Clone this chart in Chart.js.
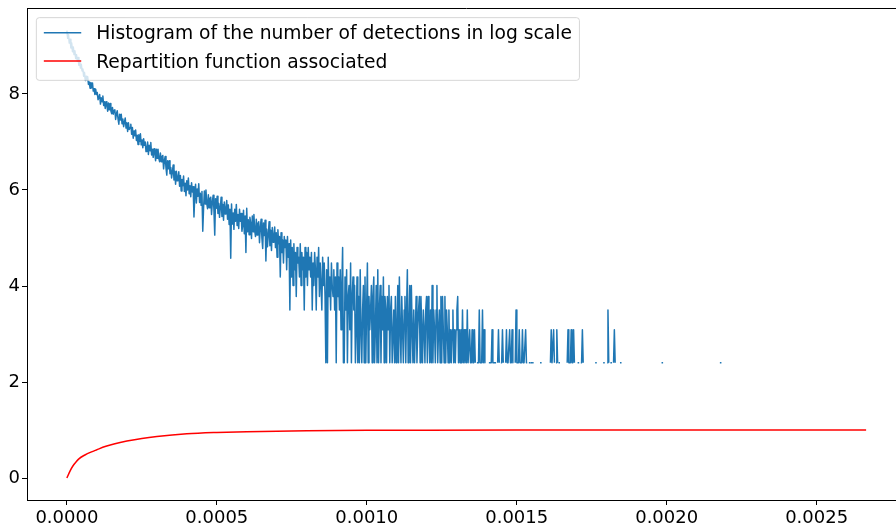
<!DOCTYPE html>
<html>
<head>
<meta charset="utf-8">
<title>Detections histogram</title>
<script src="https://cdn.jsdelivr.net/npm/chart.js@4.4.1/dist/chart.umd.min.js"></script>
<style>
  html, body { margin: 0; padding: 0; background: #fff; overflow: hidden; }
  #wrap { width: 896px; height: 526px; overflow: hidden; }
</style>
</head>
<body>
<div id="wrap"><canvas id="histChart" width="910" height="526"></canvas></div>
<script>
// --- 1. DATA ---

const seriesLabels = [
    'Histogram of the number of detections in log scale',
    'Repartition function associated'
];

// 1000 bins between 0 and the largest value
const binWidth = 0.000002665;

// log of the counts, bins 0..500 (dense part)
const histDense = [
    // 0-19
    9.32, 9.16, 9.24, 9.06, 9.14, 8.96, 9.06, 8.88, 8.98, 8.82, 8.90, 8.74, 8.82, 8.68, 8.76, 8.60, 8.70, 8.54, 8.62, 8.48,
    // 20-39
    8.52, 8.37, 8.45, 8.28, 8.37, 8.29, 8.36, 8.20, 8.25, 8.12, 8.24, 8.13, 8.23, 8.06, 8.11, 7.99, 8.10, 7.99, 8.03, 7.88,
    // 40-59
    7.88, 7.99, 7.79, 7.92, 7.84, 7.96, 7.76, 7.84, 7.70, 7.84, 7.77, 7.64, 7.81, 7.67, 7.80, 7.65, 7.59, 7.72, 7.58, 7.66,
    // 60-79
    7.67, 7.47, 7.59, 7.65, 7.48, 7.37, 7.58, 7.46, 7.58, 7.38, 7.48, 7.32, 7.41, 7.50, 7.29, 7.40, 7.22, 7.40, 7.26, 7.30,
    // 80-99
    7.37, 7.16, 7.30, 7.08, 7.23, 7.13, 7.25, 7.03, 7.14, 6.95, 7.15, 7.01, 7.17, 6.94, 7.04, 6.88, 7.07, 6.93, 7.00, 6.80,
    // 100-119
    6.85, 7.00, 6.74, 6.93, 6.82, 6.99, 6.73, 6.85, 6.68, 6.86, 6.78, 6.61, 6.85, 6.66, 6.85, 6.66, 6.59, 6.77, 6.59, 6.70,
    // 120-139
    6.72, 6.44, 6.61, 6.70, 6.46, 6.31, 6.61, 6.44, 6.61, 6.34, 6.47, 6.25, 6.38, 6.52, 6.21, 6.39, 6.12, 6.39, 6.19, 6.25,
    // 140-159
    6.38, 6.08, 6.30, 5.98, 6.22, 6.09, 6.29, 5.97, 6.14, 5.88, 6.19, 6.00, 6.25, 5.92, 6.09, 5.86, 6.15, 5.96, 6.07, 5.44,
    // 160-179
    5.87, 6.12, 5.73, 6.02, 5.87, 6.13, 5.74, 5.93, 5.68, 5.97, 5.14, 5.61, 5.98, 5.71, 6.00, 5.72, 5.61, 5.90, 5.63, 5.82,
    // 180-199
    5.85, 5.49, 5.75, 5.89, 5.58, 5.06, 5.82, 5.62, 5.87, 5.51, 5.72, 5.43, 5.64, 5.85, 5.45, 5.70, 5.37, 5.75, 5.50, 5.60,
    // 200-219
    5.78, 5.39, 5.69, 5.28, 5.60, 4.58, 5.71, 5.29, 5.52, 5.18, 5.60, 5.35, 5.70, 5.26, 5.49, 5.20, 5.60, 5.35, 5.51, 5.14,
    // 220-239
    5.26, 5.58, 5.09, 5.46, 4.70, 5.62, 5.13, 5.38, 5.07, 5.43, 5.30, 4.99, 5.46, 5.13, 5.49, 5.16, 5.03, 5.39, 5.06, 5.30,
    // 240-259
    5.34, 4.90, 5.21, 5.39, 5.00, 4.78, 5.31, 5.05, 5.37, 4.52, 5.18, 4.82, 5.08, 5.34, 4.84, 5.16, 4.74, 5.22, 4.91, 5.03,
    // 260-279
    5.23, 4.80, 5.11, 4.60, 5.17, 4.88, 5.03, 4.19, 5.11, 4.70, 4.96, 4.48, 5.03, 4.80, 4.96, 4.34, 5.03, 4.60, 4.88, 3.50,
    // 280-299
    4.96, 4.19, 4.80, 4.01, 4.88, 4.34, 4.70, 3.78, 4.80, 4.48, 4.60, 4.19, 4.88, 4.01, 4.70, 4.34, 4.60, 3.50, 4.80, 4.19,
    // 300-319
    4.70, 4.01, 4.80, 4.34, 4.60, 4.19, 4.70, 3.50, 4.48, 4.01, 4.70, 4.34, 3.50, 4.60, 4.19, 4.80, 3.78, 4.48, 4.01, 3.50,
    // 320-339
    4.60, 4.01, 4.48, 3.78, 2.40, 4.34, 2.40, 4.60, 3.78, 4.19, 3.50, 4.48, 4.01, 3.78, 4.34, 3.50, 4.19, 2.40, 4.48, 3.78,
    // 340-359
    4.19, 3.50, 4.34, 3.09, 4.01, 4.80, 2.40, 2.40, 4.19, 3.50, 4.34, 2.40, 3.78, 4.01, 3.09, 4.48, 2.40, 3.78, 4.19, 3.50,
    // 360-379
    4.01, 2.40, 3.09, 4.19, 2.40, 3.78, 2.40, 4.34, 3.09, 2.40, 3.50, 4.01, 2.40, 4.19, 2.40, 3.50, 4.48, 2.40, 3.78, 3.09,
    // 380-399
    3.50, 4.01, 2.40, 3.78, 4.19, 2.40, 3.09, 4.01, 2.40, 4.34, 2.40, 3.50, 4.01, 2.40, 3.78, 3.09, 4.19, 2.40, 3.78, 3.50,
    // 400-419
    2.40, 3.78, 3.09, 4.01, 2.40, 3.50, 3.78, 2.40, 2.40, 3.50, 2.40, 3.78, 2.40, 3.09, 4.01, 2.40, 4.19, 3.09, 2.40, 3.78,
    // 420-439
    3.09, 2.40, 3.50, 3.78, 2.40, 3.50, 4.34, 2.40, 3.09, 4.01, 2.40, 4.01, 3.09, 2.40, 3.50, 2.40, 3.09, 3.78, 2.40, 3.09,
    // 440-459
    3.50, 3.78, 2.40, 3.78, 3.09, 2.40, 3.50, 3.09, 2.40, 3.50, 3.78, 2.40, 3.78, 3.09, 2.40, 3.50, 2.40, 4.01, 2.40, 3.50,
    // 460-479
    3.09, 2.40, 3.50, 4.01, 2.40, 3.09, 3.50, 2.40, 3.78, 2.40, 3.78, 3.09, 2.40, 3.78, 2.40, 3.50, 3.09, 2.40, 3.50, 2.40,
    // 480-499
    3.09, 2.40, 3.09, 3.50, 2.40, 3.09, 2.40, 3.09, 3.50, 3.78, 2.40, 3.09, 2.40, 3.09, 2.40, 3.50, 2.40, 3.09, 2.40, 3.09,
    // 500
    2.40
];

// sparse tail: [bin, log count], bins not listed are empty
const histTail = [
    [501, 3.50], [502, 2.40], [503, 2.40], [504, 3.09], [505, 2.40], [506, 2.40], [507, 3.09], [508, 2.40],
    [509, 2.40], [510, 3.09], [511, 2.40], [513, 2.40], [514, 2.40], [515, 2.40], [516, 3.50], [517, 2.40],
    [518, 2.40], [519, 2.40], [520, 3.50], [521, 2.40], [522, 3.09], [523, 2.40],
    [528, 2.40], [529, 2.40], [530, 2.40], [531, 2.40], [532, 3.09], [533, 2.40], [534, 2.40], [535, 2.40],
    [536, 2.40], [537, 2.40], [539, 2.40], [540, 3.09], [541, 2.40], [543, 2.40], [544, 2.40], [545, 3.09],
    [546, 2.40], [549, 2.40], [550, 3.09], [551, 2.40], [552, 2.40], [553, 2.40], [554, 3.09], [555, 2.40],
    [556, 2.40], [557, 3.09], [558, 2.40], [561, 2.40], [562, 3.50], [563, 2.40], [564, 2.40], [565, 2.40],
    [566, 3.09], [567, 2.40], [568, 2.40], [569, 2.40], [570, 3.09], [571, 2.40], [572, 2.40], [573, 2.40],
    [574, 3.09], [575, 2.40], [576, 2.40], [579, 2.40], [581, 2.40], [583, 2.40],
    [593, 2.40],
    [605, 2.40], [606, 3.09], [607, 2.40], [608, 2.40], [609, 3.09], [610, 2.40], [612, 2.40], [613, 3.09],
    [614, 2.40], [616, 2.40],
    [626, 2.40], [627, 3.09], [628, 2.40], [629, 2.40], [630, 2.40], [631, 3.09], [632, 2.40], [633, 2.40],
    [634, 3.09], [635, 2.40], [639, 2.40], [640, 2.40], [641, 2.40], [643, 2.40], [644, 2.40], [645, 3.09],
    [646, 2.40], [647, 2.40],
    [662, 2.40], [672, 2.40], [676, 2.40], [677, 3.50], [678, 2.40], [681, 2.40], [684, 2.40], [685, 3.09],
    [686, 2.40], [693, 2.40],
    [745, 2.40],
    [818, 2.40]
];
const lastBin = 818;

// repartition function (cumulative)
const cdfX = [0, 0.00001, 0.00002, 0.00003, 0.00004, 0.00006, 0.00008, 0.0001, 0.00013, 0.00016, 0.0002,
              0.00025, 0.0003, 0.0004, 0.0005, 0.0006, 0.0007, 0.0008, 0.001, 0.0012, 0.0015, 0.002, 0.002665];
const cdfY = [0, 0.14, 0.25, 0.33, 0.40, 0.48, 0.54, 0.59, 0.66, 0.715, 0.77,
              0.825, 0.865, 0.92, 0.948, 0.965, 0.976, 0.984, 0.993, 0.997, 0.999, 1.0, 1.0];

const xTicks = [0, 0.0005, 0.001, 0.0015, 0.002, 0.0025];
const yTicks = [0, 2, 4, 6, 8];
const xRange = [-0.000133, 0.002798];
const yRange = [-0.458, 9.785];

// --- 2. BUILD POINTS ---

const tailMap = new Map(histTail);
const histPoints = [];
for (let i = 0; i <= lastBin; i++) {
    const y = i < histDense.length ? histDense[i] : (tailMap.has(i) ? tailMap.get(i) : null);
    histPoints.push({ x: i * binWidth, y: y });
}
const cdfPoints = cdfX.map((x, i) => ({ x: x, y: cdfY[i] }));

// single bins with empty neighbours get a small square, like matplotlib's projecting caps
function isIsolated(i) {
    const p = histPoints[i];
    if (!p || p.y === null) return false;
    const prev = histPoints[i - 1];
    const next = histPoints[i + 1];
    return (!prev || prev.y === null) && (!next || next.y === null);
}

// --- 3. PLUGINS (legend box + top spine) ---

const FONT = '"DejaVu Sans", sans-serif';
const FS = 18.7;

const boxLegend = {
    id: 'boxLegend',
    afterDatasetsDraw(chart) {
        const ctx = chart.ctx;
        const area = chart.chartArea;
        ctx.save();
        ctx.font = FS + 'px ' + FONT;
        const widths = chart.data.datasets.map(ds => ctx.measureText(ds.label).width);
        const left = area.left + 0.5 * FS;
        const top = area.top + 0.5 * FS;
        const pad = 0.4 * FS;
        const handle = 2 * FS;
        const gap = 0.8 * FS;
        const w = pad + handle + gap + Math.max(...widths) + pad;
        const h = 62.7;
        const r = 3;

        ctx.beginPath();
        ctx.moveTo(left + r, top);
        ctx.lineTo(left + w - r, top);
        ctx.arcTo(left + w, top, left + w, top + r, r);
        ctx.lineTo(left + w, top + h - r);
        ctx.arcTo(left + w, top + h, left + w - r, top + h, r);
        ctx.lineTo(left + r, top + h);
        ctx.arcTo(left, top + h, left, top + h - r, r);
        ctx.lineTo(left, top + r);
        ctx.arcTo(left, top, left + r, top, r);
        ctx.closePath();
        ctx.fillStyle = 'rgba(255,255,255,0.8)';
        ctx.fill();
        ctx.strokeStyle = 'rgba(204,204,204,0.8)';
        ctx.lineWidth = 1;
        ctx.stroke();

        chart.data.datasets.forEach((ds, k) => {
            const yRow = top + 15 + k * 28.4;
            ctx.beginPath();
            ctx.moveTo(left + pad, yRow);
            ctx.lineTo(left + pad + handle, yRow);
            ctx.strokeStyle = ds.borderColor;
            ctx.lineWidth = 1.5;
            ctx.stroke();
            ctx.fillStyle = '#000';
            ctx.textBaseline = 'alphabetic';
            ctx.textAlign = 'left';
            ctx.fillText(ds.label, left + pad + handle + gap, yRow + 0.365 * FS);
        });
        ctx.restore();
    }
};

const topSpine = {
    id: 'topSpine',
    afterDraw(chart) {
        const ctx = chart.ctx;
        const area = chart.chartArea;
        ctx.save();
        ctx.strokeStyle = '#000';
        ctx.lineWidth = 1;
        ctx.beginPath();
        ctx.moveTo(area.left, Math.round(area.top) + 0.5);
        ctx.lineTo(area.right, Math.round(area.top) + 0.5);
        ctx.stroke();
        ctx.restore();
    }
};

// --- 4. CHART ---

Chart.defaults.font.family = FONT;
Chart.defaults.color = '#000';

const ctx = document.getElementById('histChart').getContext('2d');
new Chart(ctx, {
    type: 'line',
    data: {
        datasets: [{
            label: seriesLabels[0],
            data: histPoints,
            borderColor: '#1f77b4',
            backgroundColor: '#1f77b4',
            borderWidth: 1.5,
            borderJoinStyle: 'round',
            borderCapStyle: 'butt',
            spanGaps: false,
            pointStyle: 'rect',
            pointRadius: (c) => isIsolated(c.dataIndex) ? 1.1 : 0,
            pointBorderWidth: 0,
            pointBackgroundColor: '#1f77b4',
            tension: 0
        }, {
            label: seriesLabels[1],
            data: cdfPoints,
            borderColor: '#ff0000',
            backgroundColor: '#ff0000',
            borderWidth: 1.5,
            pointRadius: 0,
            cubicInterpolationMode: 'monotone'
        }]
    },
    options: {
        responsive: false,
        animation: false,
        events: [],
        layout: { padding: { top: 8.3, right: 3, left: 0, bottom: 0 } },
        plugins: { legend: { display: false }, tooltip: { enabled: false } },
        scales: {
            x: {
                type: 'linear',
                min: xRange[0],
                max: xRange[1],
                afterBuildTicks: (scale) => { scale.ticks = xTicks.map(v => ({ value: v })); },
                afterFit: (scale) => { scale.height = 26; scale.paddingLeft = 0; scale.paddingRight = 0; },
                ticks: {
                    font: { size: 18 },
                    padding: 3,
                    maxRotation: 0,
                    autoSkip: false,
                    callback: (v) => Number(v).toFixed(4)
                },
                grid: { drawOnChartArea: false, drawTicks: true, tickLength: 5, tickColor: '#000' },
                border: { display: true, color: '#000', width: 1 }
            },
            y: {
                type: 'linear',
                min: yRange[0],
                max: yRange[1],
                afterBuildTicks: (scale) => { scale.ticks = yTicks.map(v => ({ value: v })); },
                afterFit: (scale) => { scale.width = 27; scale.paddingTop = 0; scale.paddingBottom = 0; },
                ticks: {
                    font: { size: 18 },
                    padding: 2,
                    autoSkip: false,
                    callback: (v) => String(v)
                },
                grid: { drawOnChartArea: false, drawTicks: true, tickLength: 5, tickColor: '#000' },
                border: { display: true, color: '#000', width: 1 }
            }
        }
    },
    plugins: [boxLegend, topSpine]
});
</script>
</body>
</html>
